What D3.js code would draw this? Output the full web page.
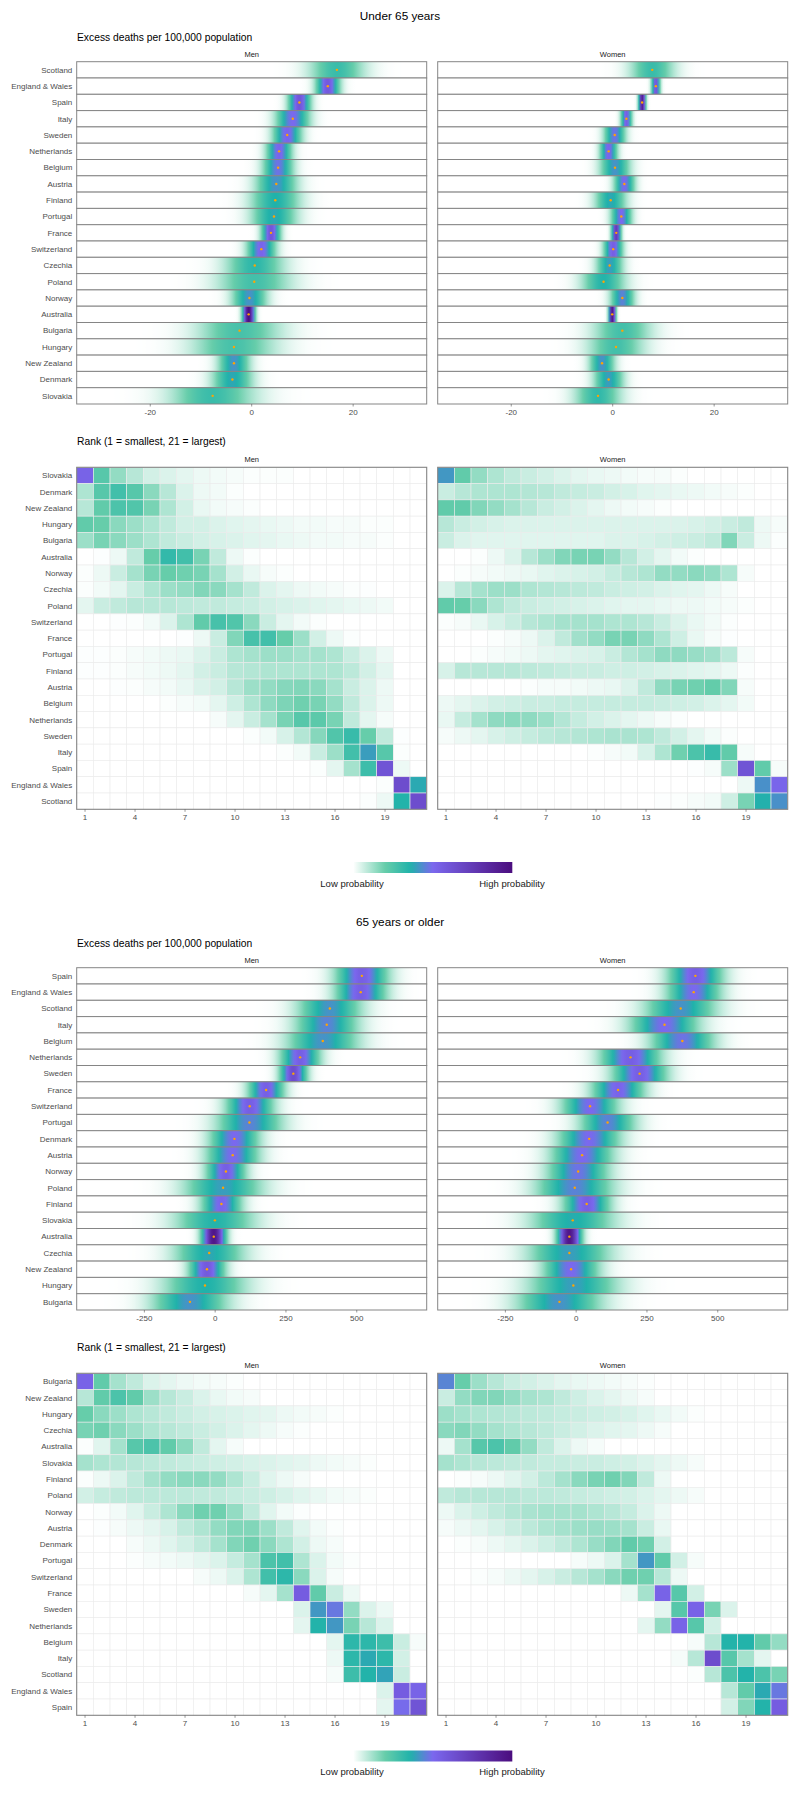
<!DOCTYPE html>
<html lang="en">
<head>
<meta charset="UTF-8">
<title>Excess deaths by country</title>
<script src="https://d3js.org/d3.v7.min.js"></script>
<style>
body, html { margin: 0; padding: 0; background: white; }
svg { display: block; font-family: "Liberation Sans", Arial, sans-serif; }
</style>
</head>
<body>
<svg width="800" height="1806"></svg>
<script>
// ---------- data ----------
// density strips: centre (orange dot), spread, and shade at the peak (0-1 of the colour scale)
const under65Order = ["Scotland", "England & Wales", "Spain", "Italy", "Sweden", "Netherlands", "Belgium", "Austria", "Finland", "Portugal", "France", "Switzerland", "Czechia", "Poland", "Norway", "Australia", "Bulgaria", "Hungary", "New Zealand", "Denmark", "Slovakia"];
const under65MenMean = [16.8, 15.0, 9.4, 8.1, 7.0, 5.4, 5.2, 4.85, 4.65, 4.4, 3.8, 1.9, 0.6, 0.5, -0.45, -0.6, -2.4, -3.5, -3.5, -3.8, -7.7];
const under65MenSd = [3.6, 1.5, 1.4, 2.1, 1.8, 1.6, 1.9, 2.6, 3.2, 2.9, 1.2, 1.8, 3.8, 4.8, 2.2, 0.75, 5.5, 5.5, 2.0, 2.6, 5.5];
const under65MenPeak = [0.3, 0.58, 0.6, 0.5, 0.52, 0.52, 0.48, 0.42, 0.36, 0.38, 0.6, 0.52, 0.33, 0.28, 0.42, 1.0, 0.27, 0.27, 0.42, 0.38, 0.3];
const under65WomenMean = [7.8, 8.5, 5.8, 2.7, 0.4, -0.8, 0.45, 2.3, -0.4, 1.7, 0.7, 0.1, -0.6, -1.8, 1.9, -0.1, 1.9, 0.65, -2.1, -0.8, -2.9];
const under65WomenSd = [2.9, 0.55, 0.45, 0.7, 1.35, 1.1, 1.9, 1.3, 2.0, 1.3, 0.6, 1.2, 1.7, 2.8, 1.5, 0.45, 3.8, 3.7, 1.6, 1.9, 3.0];
const under65WomenPeak = [0.3, 0.6, 0.9, 0.55, 0.48, 0.52, 0.42, 0.5, 0.38, 0.5, 0.75, 0.55, 0.4, 0.35, 0.45, 0.95, 0.28, 0.28, 0.42, 0.4, 0.32];
const under65Ticks = [-20, 0, 20];

const over65Order = ["Spain", "England & Wales", "Scotland", "Italy", "Belgium", "Netherlands", "Sweden", "France", "Switzerland", "Portugal", "Denmark", "Austria", "Norway", "Poland", "Finland", "Slovakia", "Australia", "Czechia", "New Zealand", "Hungary", "Bulgaria"];
const over65MenMean = [518, 514, 405, 394, 380, 300, 276, 180, 122, 121, 68, 62, 38, 28, 22, -1, -5, -21, -29, -36, -89];
const over65MenSd = [58, 56, 72, 70, 80, 44, 30, 40, 52, 72, 55, 58, 44, 88, 45, 92, 26, 80, 40, 95, 85];
const over65MenPeak = [0.55, 0.55, 0.42, 0.45, 0.42, 0.55, 0.65, 0.55, 0.55, 0.45, 0.5, 0.5, 0.55, 0.4, 0.52, 0.35, 0.95, 0.38, 0.58, 0.36, 0.42];
const over65WomenMean = [421, 415, 369, 312, 375, 192, 224, 148, 49, 111, 46, 21, 7, -5, 37, -12, -24, -24, -18, -10, -59];
const over65WomenSd = [60, 60, 80, 75, 70, 66, 60, 58, 62, 62, 68, 68, 68, 85, 52, 95, 26, 92, 62, 100, 95];
const over65WomenPeak = [0.55, 0.5, 0.42, 0.5, 0.48, 0.55, 0.55, 0.52, 0.5, 0.45, 0.5, 0.5, 0.48, 0.45, 0.55, 0.37, 0.95, 0.4, 0.5, 0.4, 0.42];
const over65Ticks = [-250, 0, 250, 500];

const rankTicks = [1, 4, 7, 10, 13, 16, 19];

// rank probabilities (%), columns = rank 1..21
const under65RankOrder = ["Slovakia", "Denmark", "New Zealand", "Hungary", "Bulgaria", "Australia", "Norway", "Czechia", "Poland", "Switzerland", "France", "Portugal", "Finland", "Austria", "Belgium", "Netherlands", "Sweden", "Italy", "Spain", "England & Wales", "Scotland"];
const under65RankMen = [
  [45, 20, 12, 8, 5, 4, 3, 2, 1.5, 1, 0.5, 0.5, 0.5, 0, 0, 0, 0, 0, 0, 0, 0],
  [9, 20, 24, 20, 13, 8, 4, 2, 1.5, 0.5, 0, 0, 0, 0, 0, 0, 0, 0, 0, 0, 0],
  [8, 18, 22, 21, 15, 9, 5, 2.5, 1.5, 1, 0.5, 0, 0, 0, 0, 0, 0, 0, 0, 0, 0],
  [18, 17, 13, 11, 9, 7, 5, 5, 4, 3.5, 3, 2.5, 2, 1.5, 1.5, 1, 1, 0.5, 0.5, 0, 0],
  [11, 15, 13, 11, 9, 7, 6, 5, 4.5, 4, 3.5, 3, 2.5, 2, 1.5, 1.5, 1, 1, 0.5, 0, 0],
  [0, 0.3, 2, 7, 17, 27, 24, 15, 7, 2, 0.5, 0, 0, 0, 0, 0, 0, 0, 0, 0, 0],
  [0.5, 2, 6, 10, 15, 17, 16, 15, 10, 5, 2.5, 1, 0.5, 0, 0, 0, 0, 0, 0, 0, 0],
  [0.5, 1.5, 3, 6, 9, 11, 12, 14, 13, 10, 7, 4, 3, 2, 1.5, 1, 0.5, 0.3, 0, 0, 0],
  [3, 6, 7, 8, 8, 8, 7.5, 7, 7, 6.5, 6, 5, 4.5, 4, 3.5, 3, 2.5, 2, 1.5, 0, 0],
  [0, 0, 0.3, 0.5, 1.5, 4, 9, 18, 23, 21, 13, 6, 3, 1.5, 0.5, 0, 0, 0, 0, 0, 0],
  [0, 0, 0, 0, 0, 0, 0.3, 2, 6, 14, 23, 24, 17, 11, 5, 2, 0.5, 0, 0, 0, 0],
  [0.3, 0.3, 0.5, 1, 1.5, 2, 2.5, 4, 6, 9, 10, 11, 11, 10, 10, 9, 6, 4, 2, 0, 0],
  [0.3, 0.3, 0.5, 1, 1.5, 2, 3, 5, 6, 8, 8.5, 9, 9, 9, 9, 9, 7.5, 5, 3, 0, 0],
  [0, 0, 0.3, 0.5, 1, 1.5, 2.5, 4, 5, 8, 11, 12, 13.5, 14, 13, 10, 6, 4, 2, 0, 0],
  [0, 0, 0, 0, 0, 0.5, 1, 1.5, 3, 5.5, 9, 12.5, 14.5, 16, 15, 12, 7, 4, 2, 0, 0],
  [0, 0, 0, 0, 0, 0, 0, 0, 1, 3, 6, 10, 15, 20, 19, 15, 7, 3, 1, 0, 0],
  [0, 0, 0, 0, 0, 0, 0, 0, 0, 0, 0.5, 1.5, 4.5, 8.5, 13.5, 21, 26, 17, 7, 0.3, 0],
  [0, 0, 0, 0, 0, 0, 0, 0, 0, 0, 0, 0, 0.5, 1.5, 6, 11, 24, 34, 20, 0.5, 0],
  [0, 0, 0, 0, 0, 0, 0, 0, 0, 0, 0, 0, 0, 0, 0.5, 3, 10, 25, 52, 2, 0],
  [0, 0, 0, 0, 0, 0, 0, 0, 0, 0, 0, 0, 0, 0, 0, 0, 0, 0, 0.5, 55, 32],
  [0, 0, 0, 0, 0, 0, 0, 0, 0, 0, 0, 0, 0, 0, 0, 0, 0, 0.5, 2, 30, 55]
];
const under65RankWomen = [
  [35, 18, 12, 9, 7, 6, 5, 4, 3, 2.5, 2, 1.5, 1, 1, 0.5, 0, 0, 0, 0, 0, 0],
  [6, 8, 9, 9, 9, 8.5, 8, 7, 6.5, 6, 5, 4.5, 3.5, 3, 2.5, 2, 1.5, 1, 0.5, 0, 0],
  [18, 18, 14, 12, 10, 8, 6, 5, 4, 3, 2, 1.5, 1, 0.5, 0, 0, 0, 0, 0, 0, 0],
  [8, 6, 5, 4.5, 4, 4, 4, 4, 4, 4, 4, 4, 4, 4, 4, 4.5, 5, 6, 7, 2, 1],
  [6, 4, 3.5, 3.5, 3.5, 3.5, 3.5, 3.5, 3.5, 3.5, 4, 4, 4.5, 5, 5.5, 6, 7, 14, 6, 2, 0.5],
  [0, 0, 0.5, 2, 4, 8, 11, 14, 15, 15, 12, 8, 5, 3, 1.5, 0.5, 0, 0, 0, 0, 0],
  [0, 0.5, 1, 1.5, 2, 2.5, 3.5, 4, 4.5, 5, 6.5, 8, 9, 12, 12, 13, 12, 9, 1, 0, 0],
  [4, 8, 10, 11, 11, 9, 8.5, 8, 7.5, 7, 6, 5.5, 5, 4, 3.5, 3, 2, 1, 0, 0, 0],
  [18, 17, 13, 9, 7, 6, 5.5, 5, 4.5, 4, 3.5, 3, 3, 2.5, 2, 2, 1.5, 1, 0.5, 0, 0],
  [0.5, 1, 2.5, 4.5, 6, 8, 9, 10, 10, 10, 9, 9, 8, 6, 4, 2.5, 1.5, 0.5, 0, 0, 0],
  [0, 0, 0, 0.5, 1, 2, 4, 7, 10.5, 12, 15, 15, 12.5, 9, 5.5, 2.5, 1, 0.3, 0, 0, 0],
  [0, 0, 0.5, 1, 1.5, 2, 3, 3.5, 4, 4.5, 6, 8.5, 10, 12.5, 12.5, 11.5, 10.5, 7.5, 1, 0, 0],
  [4.5, 8, 8, 8, 8, 7.5, 7, 6.5, 6, 6, 5.5, 5.5, 5, 4.5, 4, 3.5, 3, 2, 0.5, 0, 0],
  [0, 0, 0, 0, 0, 0.5, 1, 1, 1.5, 2, 2.5, 4, 7, 12.5, 15, 16, 17.5, 14, 1, 0, 0],
  [2, 3, 4, 5, 5.5, 6, 6, 6.5, 6.5, 6.5, 6.5, 6.5, 6.5, 6, 5.5, 5, 4, 3, 1.5, 0, 0],
  [2.5, 6.5, 10, 12.5, 13, 12.5, 11, 8.5, 6.5, 5, 4, 3, 2, 1, 0.5, 0, 0, 0, 0, 0, 0],
  [1, 2, 3, 4.5, 5.5, 6.5, 7.5, 8, 8.5, 9, 9.5, 9.5, 9, 7, 5, 3, 1.5, 0.5, 0, 0, 0],
  [0, 0, 0, 0, 0, 0, 0, 0, 0, 0.5, 1, 1.5, 4.5, 9, 16, 22, 26, 18, 1, 0, 0],
  [0, 0, 0, 0, 0, 0, 0, 0, 0, 0, 0, 0, 0, 0, 0, 0.3, 1, 11, 52, 18, 1],
  [0, 0, 0, 0, 0, 0, 0, 0, 0, 0, 0, 0, 0, 0, 0, 0, 0, 0, 2, 36, 44],
  [0, 0, 0, 0, 0, 0, 0, 0, 0, 0, 0, 0, 0, 0.3, 0.5, 1, 1.5, 5.5, 15, 31, 36]
];

const over65RankOrder = ["Bulgaria", "New Zealand", "Hungary", "Czechia", "Australia", "Slovakia", "Finland", "Poland", "Norway", "Austria", "Denmark", "Portugal", "Switzerland", "France", "Sweden", "Netherlands", "Belgium", "Italy", "Scotland", "England & Wales", "Spain"];
const over65RankMen = [
  [45, 18, 10, 7, 4, 3, 2, 1.5, 1, 0.5, 0, 0, 0, 0, 0, 0, 0, 0, 0, 0, 0],
  [8, 18, 22, 18, 11, 8, 6, 4, 2.5, 1.5, 1, 0, 0, 0, 0, 0, 0, 0, 0, 0, 0],
  [17, 13, 11, 9, 8, 7, 6, 5, 4.5, 4, 3.5, 3, 2, 1.5, 1, 0.5, 0, 0, 0, 0, 0],
  [15, 16, 13, 11, 9, 8, 7, 6, 5, 4, 3, 2, 1, 0.5, 0, 0, 0, 0, 0, 0, 0],
  [0.5, 3.5, 10, 20, 22, 18, 13, 7, 3, 1, 0, 0, 0, 0, 0, 0, 0, 0, 0, 0, 0],
  [10, 9, 8.5, 8, 7.5, 7, 6.5, 6, 5.5, 5, 4.5, 4, 3.5, 3, 2, 1.5, 1, 0.5, 0, 0, 0],
  [0.5, 2, 4, 7, 10, 12, 13, 13, 12, 9, 6, 3.5, 2, 1, 0, 0, 0, 0, 0, 0, 0],
  [5, 6.5, 7, 7.5, 7.5, 7.5, 7.5, 7, 7, 6.5, 6, 5.5, 4.5, 3.5, 2.5, 1.5, 1, 0.5, 0, 0, 0],
  [0, 0.5, 1.5, 3.5, 6, 9, 13, 16, 16, 12, 7, 3.5, 1.5, 0.5, 0, 0, 0, 0, 0, 0, 0],
  [0, 0.3, 1, 2, 3, 4.5, 7, 9, 12, 14, 14, 11, 7, 3.5, 1.5, 0.5, 0, 0, 0, 0, 0],
  [0, 0, 0, 1, 2, 3.5, 5, 7, 10, 14, 16, 13, 9, 5, 2, 1, 0, 0, 0, 0, 0],
  [0, 0, 0, 0.5, 1, 1.5, 2, 3, 4, 6.5, 10, 22, 24, 9, 4, 1.5, 0.5, 0, 0, 0, 0],
  [0, 0, 0, 0, 0, 0, 0, 1, 2, 4, 9, 24, 28, 13, 4, 1, 0, 0, 0, 0, 0],
  [0, 0, 0, 0, 0, 0, 0, 0, 0, 0, 1, 3, 10, 48, 18, 6, 2, 0, 0, 0, 0],
  [0, 0, 0, 0, 0, 0, 0, 0, 0, 0, 0, 0, 0, 4, 35, 40, 12, 4, 2, 0, 0],
  [0, 0, 0, 0, 0, 0, 0, 0, 0, 0, 0, 0, 0, 3, 30, 35, 15, 8, 4, 0, 0],
  [0, 0, 0, 0, 0, 0, 0, 0, 0, 0, 0, 0, 0, 0, 0, 3, 28, 28, 25, 6, 1],
  [0, 0, 0, 0, 0, 0, 0, 0, 0, 0, 0, 0, 0, 0, 0, 2, 28, 32, 28, 5, 0],
  [0, 0, 0, 0, 0, 0, 0, 0, 0, 0, 0, 0, 0, 0, 0, 1, 25, 30, 33, 6, 0],
  [0, 0, 0, 0, 0, 0, 0, 0, 0, 0, 0, 0, 0, 0, 0, 0, 0, 0, 4, 48, 45],
  [0, 0, 0, 0, 0, 0, 0, 0, 0, 0, 0, 0, 0, 0, 0, 0, 0, 0, 3, 42, 52]
];
const over65RankWomen = [
  [38, 17, 11, 8, 6, 5, 4, 3, 2.5, 2, 1.5, 1, 0.5, 0, 0, 0, 0, 0, 0, 0, 0],
  [6, 12, 14, 14, 12, 10, 9, 7, 5.5, 4, 3, 2, 1, 0, 0, 0, 0, 0, 0, 0, 0],
  [11, 10, 9, 8.5, 8, 7.5, 7, 6.5, 6, 5.5, 5, 4.5, 3.5, 2.5, 1.5, 0.5, 0, 0, 0, 0, 0],
  [13, 14, 12, 10, 9, 8, 7, 6, 5, 4, 3.5, 3, 2, 1, 0, 0, 0, 0, 0, 0, 0],
  [2, 10, 20, 22, 18, 12, 7, 4, 2, 1, 0, 0, 0, 0, 0, 0, 0, 0, 0, 0, 0],
  [10, 9, 8, 7.5, 7, 7, 6.5, 6.5, 6, 6, 5.5, 5, 4, 3, 2, 1, 0, 0, 0, 0, 0],
  [0, 0.5, 1, 2, 3.5, 5, 7.5, 10, 13, 15, 16, 14, 7, 2, 0, 0, 0, 0, 0, 0, 0],
  [7, 8, 8, 8, 8, 7.5, 7.5, 7, 6.5, 6, 5.5, 5, 4, 3, 2, 1, 0, 0, 0, 0, 0],
  [2, 4, 5.5, 7, 8.5, 9.5, 10, 10, 10, 9, 8, 6.5, 4, 2, 0, 0, 0, 0, 0, 0, 0],
  [1, 2, 3, 4.5, 6, 7.5, 9, 10, 11, 11.5, 11, 10, 6, 2.5, 0, 0, 0, 0, 0, 0, 0],
  [0, 0.5, 1, 2, 3, 4, 5.5, 7, 9, 11.5, 14, 18, 16, 5, 0, 0, 0, 0, 0, 0, 0],
  [0, 0, 0, 0, 0, 0, 0, 0, 1, 2, 4, 10, 35, 18, 5, 1, 0, 0, 0, 0, 0],
  [0, 0, 0.5, 1, 2, 3, 4.5, 6, 8, 10, 13, 16, 16, 8, 2, 0, 0, 0, 0, 0, 0],
  [0, 0, 0, 0, 0, 0, 0, 0, 0, 0, 0, 2, 10, 45, 20, 5, 0, 0, 0, 0, 0],
  [0, 0, 0, 0, 0, 0, 0, 0, 0, 0, 0, 0, 0, 3, 20, 45, 15, 4, 0, 0, 0],
  [0, 0, 0, 0, 0, 0, 0, 0, 0, 0, 0, 0, 3, 12, 45, 20, 5, 0, 0, 0, 0],
  [0, 0, 0, 0, 0, 0, 0, 0, 0, 0, 0, 0, 0, 0, 0, 1, 8, 30, 30, 18, 12],
  [0, 0, 0, 0, 0, 0, 0, 0, 0, 0, 0, 0, 0, 0, 1, 8, 55, 20, 10, 3, 0],
  [0, 0, 0, 0, 0, 0, 0, 0, 0, 0, 0, 0, 0, 0, 0, 0.5, 8, 22, 30, 22, 15],
  [0, 0, 0, 0, 0, 0, 0, 0, 0, 0, 0, 0, 0, 0, 0, 0, 0, 8, 18, 32, 40],
  [0, 0, 0, 0, 0, 0, 0, 0, 0, 0, 0, 0, 0, 0, 0, 0, 0, 5, 14, 30, 48]
];

// ---------- drawing ----------
const svg = d3.select("svg");
const defs = svg.append("defs");

const palette = ["#ffffff", "#66cdaa", "#20b2aa", "#7b68ee", "#4b0d7e"];
const color = d3.scaleLinear()
  .domain([0, 0.2, 0.36, 0.5, 1])
  .range(palette)
  .clamp(true);

const menX = [76.7, 426.7];
const womenX = [437.7, 787.7];
const labelX = 72.3;
const textGrey = "#4d4d4d";
const borderGrey = "#858585";

function fmt(d) { return d < 0 ? "-" + Math.abs(d) : String(d); }

function addAxis(g, x, ticks, y0) {
  ticks.forEach(t => {
    const px = x(t);
    g.append("line").attr("x1", px).attr("x2", px).attr("y1", y0).attr("y2", y0 + 2.5)
      .attr("stroke", "#555").attr("stroke-width", 0.6);
    g.append("text").attr("x", px).attr("y", y0 + 10.5).attr("text-anchor", "middle")
      .attr("font-size", 8).attr("fill", textGrey).text(fmt(t));
  });
}

function drawGroup(cfg) {
  const g = svg.append("g").attr("transform", `translate(0,${cfg.offset})`);

  g.append("text").attr("x", 400).attr("y", 20.1).attr("text-anchor", "middle")
    .attr("font-size", 11.75).attr("fill", "#000").text(cfg.title);

  // --- density strips ---
  g.append("text").attr("x", 77).attr("y", 40.6).attr("font-size", 10.3).text("Excess deaths per 100,000 population");

  const y = d3.scaleBand().domain(cfg.order).range([61.7, 404]);
  const samples = d3.range(0, 201);

  const sexes = [
    { name: "Men", range: menX, mean: cfg.menMean, sd: cfg.menSd, peak: cfg.menPeak },
    { name: "Women", range: womenX, mean: cfg.womenMean, sd: cfg.womenSd, peak: cfg.womenPeak }
  ];

  sexes.forEach(sex => {
    const x = d3.scaleLinear().domain(cfg.xDomain).range(sex.range);
    g.append("text").attr("x", (sex.range[0] + sex.range[1]) / 2).attr("y", 56.6)
      .attr("text-anchor", "middle").attr("font-size", 7.5).attr("fill", "#1a1a1a").text(sex.name);

    cfg.order.forEach((country, i) => {
      const m = sex.mean[i], s = sex.sd[i], pk = sex.peak[i];
      const id = `grad-${cfg.key}-${sex.name}-${i}`;
      const grad = defs.append("linearGradient").attr("id", id)
        .attr("gradientUnits", "userSpaceOnUse")
        .attr("x1", sex.range[0]).attr("x2", sex.range[1]).attr("y1", 0).attr("y2", 0);
      samples.forEach(k => {
        const f = k / 200;
        const v = x.invert(sex.range[0] + f * (sex.range[1] - sex.range[0]));
        const z = (v - m) / s;
        grad.append("stop").attr("offset", f).attr("stop-color", color(pk * Math.exp(-0.5 * z * z)));
      });
      g.append("rect").attr("x", sex.range[0]).attr("y", y(country))
        .attr("width", sex.range[1] - sex.range[0]).attr("height", y.bandwidth())
        .attr("fill", `url(#${id})`)
        .attr("stroke", borderGrey).attr("stroke-width", 1);
      g.append("circle").attr("cx", x(m)).attr("cy", y(country) + y.bandwidth() / 2)
        .attr("r", 1.2).attr("fill", "#ffa500");
    });

    addAxis(g, x, cfg.ticks, 404);
  });

  cfg.order.forEach(country => {
    g.append("text").attr("x", labelX).attr("y", y(country) + y.bandwidth() / 2 + 2.8)
      .attr("text-anchor", "end").attr("font-size", 8).attr("fill", textGrey).text(country);
  });

  // --- rank heatmaps ---
  g.append("text").attr("x", 77).attr("y", 445.3).attr("font-size", 10.3).text("Rank (1 = smallest, 21 = largest)");
  const yr = d3.scaleBand().domain(cfg.rankOrder).range([467.3, 809.3]);
  const ranks = d3.range(1, 22);

  [{ name: "Men", range: menX, data: cfg.rankMen }, { name: "Women", range: womenX, data: cfg.rankWomen }].forEach(sex => {
    const xr = d3.scaleBand().domain(ranks).range(sex.range);
    g.append("text").attr("x", (sex.range[0] + sex.range[1]) / 2).attr("y", 461.9)
      .attr("text-anchor", "middle").attr("font-size", 7.5).attr("fill", "#1a1a1a").text(sex.name);

    cfg.rankOrder.forEach((country, i) => {
      g.selectAll(null).data(sex.data[i]).join("rect")
        .attr("x", (d, j) => xr(ranks[j]))
        .attr("y", yr(country))
        .attr("width", xr.bandwidth())
        .attr("height", yr.bandwidth())
        .attr("fill", d => color(d / 85))
        .attr("stroke", "#ebebeb")
        .attr("stroke-width", 0.6);
    });

    g.append("rect").attr("x", sex.range[0]).attr("y", 467.3)
      .attr("width", sex.range[1] - sex.range[0]).attr("height", 342)
      .attr("fill", "none").attr("stroke", borderGrey).attr("stroke-width", 1.1);

    const xc = t => xr(t) + xr.bandwidth() / 2;
    addAxis(g, xc, rankTicks, 809.3);
  });

  cfg.rankOrder.forEach(country => {
    g.append("text").attr("x", labelX).attr("y", yr(country) + yr.bandwidth() / 2 + 2.8)
      .attr("text-anchor", "end").attr("font-size", 8).attr("fill", textGrey).text(country);
  });

  // --- legend ---
  const lg = svg.append("g").attr("transform", `translate(0,${cfg.legendY})`);
  const lid = `legend-${cfg.key}`;
  const lgrad = defs.append("linearGradient").attr("id", lid);
  d3.range(0, 41).forEach(k => {
    lgrad.append("stop").attr("offset", k / 40).attr("stop-color", color(k / 40));
  });
  lg.append("rect").attr("x", 353.3).attr("y", 0).attr("width", 159).attr("height", 11)
    .attr("fill", `url(#${lid})`);
  lg.append("text").attr("x", 352).attr("y", 24.5).attr("text-anchor", "middle")
    .attr("font-size", 9.5).attr("fill", "#1a1a1a").text("Low probability");
  lg.append("text").attr("x", 512).attr("y", 24.5).attr("text-anchor", "middle")
    .attr("font-size", 9.5).attr("fill", "#1a1a1a").text("High probability");
}

drawGroup({
  key: "u65", offset: 0, title: "Under 65 years",
  order: under65Order, menMean: under65MenMean, menSd: under65MenSd, menPeak: under65MenPeak,
  womenMean: under65WomenMean, womenSd: under65WomenSd, womenPeak: under65WomenPeak,
  xDomain: [-34.5, 34.5], ticks: under65Ticks,
  rankOrder: under65RankOrder, rankMen: under65RankMen, rankWomen: under65RankWomen,
  legendY: 862
});

drawGroup({
  key: "o65", offset: 906, title: "65 years or older",
  order: over65Order, menMean: over65MenMean, menSd: over65MenSd, menPeak: over65MenPeak,
  womenMean: over65WomenMean, womenSd: over65WomenSd, womenPeak: over65WomenPeak,
  xDomain: [-489, 747], ticks: over65Ticks,
  rankOrder: over65RankOrder, rankMen: over65RankMen, rankWomen: over65RankWomen,
  legendY: 1750.5
});
</script>
</body>
</html>
